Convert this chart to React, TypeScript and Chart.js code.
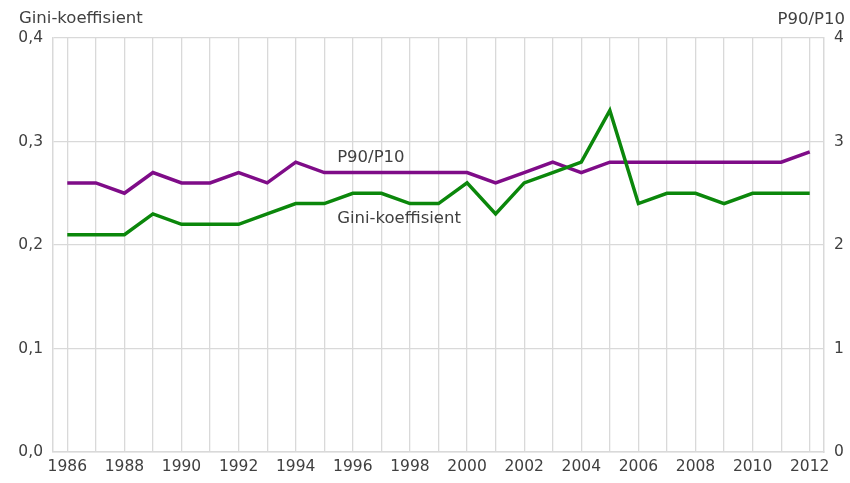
import React, { useEffect, useRef } from "react";
import { Chart, registerables } from "chart.js";

Chart.register(...registerables);

const years = [
  "1986", "1987", "1988", "1989", "1990", "1991", "1992", "1993", "1994",
  "1995", "1996", "1997", "1998", "1999", "2000", "2001", "2002", "2003",
  "2004", "2005", "2006", "2007", "2008", "2009", "2010", "2011", "2012",
];

const giniValues = [
  0.21, 0.21, 0.21, 0.23, 0.22, 0.22, 0.22, 0.23, 0.24, 0.24, 0.25, 0.25, 0.24,
  0.24, 0.26, 0.23, 0.26, 0.27, 0.28, 0.33, 0.24, 0.25, 0.25, 0.24, 0.25, 0.25,
  0.25,
];

const p90p10Values = [
  2.6, 2.6, 2.5, 2.7, 2.6, 2.6, 2.7, 2.6, 2.8, 2.7, 2.7, 2.7, 2.7, 2.7, 2.7,
  2.6, 2.7, 2.8, 2.7, 2.8, 2.8, 2.8, 2.8, 2.8, 2.8, 2.8, 2.9,
];

const leftTitle = "Gini-koeffisient";
const rightTitle = "P90/P10";

// inline series labels, anchored in data coordinates (category index, axis value)
const inlineLabelTexts = ["P90/P10", "Gini-koeffisient"];
const inlineLabelIndex = [9.45, 9.45];
const inlineLabelValues = [2.84, 0.225];
const inlineLabelAxes = ["y1", "y"];

const FONT = '"DejaVu Sans", sans-serif';
const TEXT = "#404040";
const GRID = "#d9d9d9";

const labelsPlugin = {
  id: "customLabels",
  afterDraw(chart: any) {
    const ctx = chart.ctx;
    const area = chart.chartArea;
    ctx.save();
    ctx.fillStyle = TEXT;
    ctx.font = `16.5px ${FONT}`;
    ctx.textBaseline = "middle";
    ctx.textAlign = "left";
    ctx.fillText(leftTitle, 19, area.top - 19);
    ctx.textAlign = "right";
    ctx.fillText(rightTitle, 845, area.top - 18);
    ctx.textAlign = "left";
    const xs = chart.scales.x;
    for (let i = 0; i < inlineLabelTexts.length; i++) {
      const ys = chart.scales[inlineLabelAxes[i]];
      const px = xs.getPixelForValue(inlineLabelIndex[i]);
      const py = ys.getPixelForValue(inlineLabelValues[i]);
      ctx.fillText(inlineLabelTexts[i], px, py);
    }
    ctx.restore();
  },
};

export default function App() {
  const canvasRef = useRef<HTMLCanvasElement | null>(null);

  useEffect(() => {
    if (!canvasRef.current) return;
    const chart = new Chart(canvasRef.current, {
      type: "line",
      data: {
        labels: years,
        datasets: [
          {
            label: "Gini-koeffisient",
            data: giniValues,
            borderColor: "#0b870b",
            borderWidth: 3.5,
            pointRadius: 0,
            tension: 0,
            yAxisID: "y",
          },
          {
            label: "P90/P10",
            data: p90p10Values,
            borderColor: "#7f0c88",
            borderWidth: 3.5,
            pointRadius: 0,
            tension: 0,
            yAxisID: "y1",
          },
        ],
      },
      options: {
        responsive: false,
        animation: false,
        layout: { padding: { top: 38, left: 0, right: 0, bottom: 0 } },
        plugins: {
          legend: { display: false },
          tooltip: { enabled: false },
        },
        scales: {
          x: {
            offset: true,
            grid: { color: GRID, drawTicks: false, offset: false, lineWidth: 1.3 },
            border: { color: GRID, width: 1.5 },
            ticks: {
              color: TEXT,
              font: { family: FONT, size: 15.5 },
              autoSkip: false,
              maxRotation: 0,
              padding: 6,
              callback: (_v: any, i: number) => (i % 2 === 0 ? years[i] : ""),
            },
            afterFit: (scale: any) => {
              scale.height = 31;
            },
          },
          y: {
            position: "left",
            min: 0,
            max: 0.4,
            grid: { color: GRID, drawTicks: false, lineWidth: 1.3 },
            border: { color: GRID, width: 1.5 },
            ticks: {
              stepSize: 0.1,
              color: TEXT,
              font: { family: FONT, size: 15.5 },
              padding: 10,
              callback: (v: any) => Number(v).toFixed(1).replace(".", ","),
            },
            afterFit: (scale: any) => {
              scale.width = 53;
            },
          },
          y1: {
            position: "right",
            min: 0,
            max: 4,
            grid: { drawOnChartArea: false, drawTicks: false },
            border: { color: GRID, width: 1.5 },
            ticks: {
              stepSize: 1,
              color: TEXT,
              font: { family: FONT, size: 15.5 },
              padding: 10,
            },
            afterFit: (scale: any) => {
              scale.width = 26;
            },
          },
        },
      },
      plugins: [labelsPlugin],
    });
    return () => chart.destroy();
  }, []);

  return (
    <div style={{ position: "absolute", left: 0, top: 0, width: 850, height: 483, background: "#fff" }}>
      <canvas ref={canvasRef} width={850} height={483} />
    </div>
  );
}
